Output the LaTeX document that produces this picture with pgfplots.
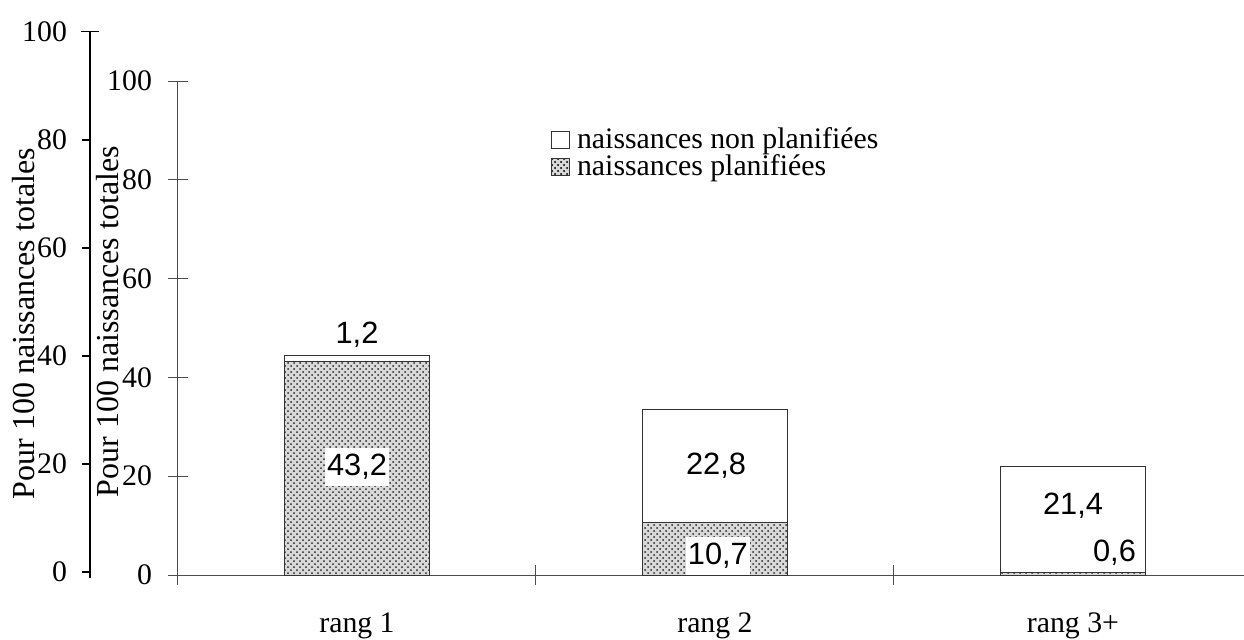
\documentclass[border=0pt]{standalone}
\usepackage{pgfplots}
\pgfplotsset{compat=1.18}
\usetikzlibrary{patterns}
\usepackage{fontspec}
\setmainfont{Liberation Serif}
\newfontfamily\arial{Liberation Sans}
\newcommand\fs{\fontsize{14.9}{16}\selectfont}
\newcommand\fl{\fontsize{16}{17}\selectfont}
\newcommand\fa{\arial\fontsize{15.4}{17}\selectfont}
\begin{document}
\begin{tikzpicture}
\useasboundingbox (0,0) rectangle (622pt,319.5pt);
% outer (stray) axis
\begin{axis}[
  at={(45pt,30.26pt)}, anchor=south west,
  scale only axis, width=10pt, height=273.4pt,
  xmin=0, xmax=1, ymin=-1.2, ymax=100,
  hide x axis,
  axis y line*=left,
  y axis line style={-, line width=1pt, black},
  ytick={0,20,40,60,80,100},
  tick align=outside, major tick length=4pt,
  ytick style={line width=0.8pt, black},
  extra y ticks={100}, extra y tick labels={},
  extra y tick style={tick align=center, major tick length=8.5pt},
  tick label style={font=\fs, xshift=-4pt},
  /pgf/number format/assume math mode=true,
  ylabel={Pour 100 naissances totales},
  every axis y label/.style={at={(axis description cs:-3.3,0.466)}, rotate=90, anchor=center, font=\fl},
]
\end{axis}
% inner axis with the bars
\begin{axis}[
  at={(89pt,32pt)}, anchor=south west,
  scale only axis, width=533pt, height=247pt,
  xmin=-0.5, xmax=2.4777, ymin=0, ymax=100,
  axis x line=bottom, axis y line=left,
  axis line style={-, black!70, line width=0.5pt},
  ybar stacked, bar width=0.4036,
  xtick={-0.5,0.5,1.5}, xticklabels={},
  extra x ticks={0,1,2}, extra x tick labels={rang 1,rang 2,rang 3+},
  extra x tick style={major tick length=0pt, tick label style={anchor=base, yshift=-28.5pt}},
  ytick={0,20,40,60,80,100},
  tick align=center, major tick length=10pt,
  tick style={black!70, line width=0.5pt},
  tick label style={font=\fs},
  yticklabel style={xshift=-4.5pt},
  /pgf/number format/assume math mode=true,
  ylabel={Pour 100 naissances totales},
  every axis y label/.style={at={(axis description cs:-0.066,0.513)}, rotate=90, anchor=center, font=\fl},
  reverse legend,
  legend style={at={(rel axis cs:0.344,0.922)}, anchor=north west, draw=none, fill=none, font=\fs, row sep=-2.5pt, legend cell align=left},
  clip=false,
]
\addplot[fill=gray!30, draw=black!80, line width=0.5pt, postaction={pattern=crosshatch dots, pattern color=black!85},
  legend image code/.code={\draw[fill=gray!30, draw=black!80, postaction={pattern=crosshatch dots, pattern color=black!85}] (0pt,-4.25pt) rectangle (9pt,4.25pt); \path (10.5pt,0pt);}]
  coordinates {(0,43.2) (1,10.7) (2,0.6)};
\addlegendentry{naissances planifiées}
\addplot[fill=white, draw=black!80, line width=0.5pt,
  legend image code/.code={\draw[fill=white, draw=black!80] (0pt,-4.25pt) rectangle (9pt,4.25pt); \path (10.5pt,0pt);}]
  coordinates {(0,1.2) (1,22.8) (2,21.4)};
\addlegendentry{naissances non planifiées}
\coordinate (l1) at (axis cs:0,48.6);
\coordinate (l2) at (axis cs:0,21.9);
\coordinate (l3) at (axis cs:1.003,22.1);
\coordinate (l4) at (axis cs:1.008,3.85);
\coordinate (l5) at (axis cs:2,14.0);
\coordinate (l6) at (axis cs:2.116,4.45);
\end{axis}
\node[font=\fa] at (l1) {1,2};
\node[font=\fa, fill=white, inner xsep=1pt, inner ysep=3pt] at (l2) {43,2};
\node[font=\fa] at (l3) {22,8};
\node[font=\fa, fill=white, inner xsep=1pt, inner ysep=3pt] at (l4) {10,7};
\node[font=\fa] at (l5) {21,4};
\node[font=\fa, fill=white, inner xsep=1pt, inner ysep=1pt] at (l6) {0,6};
\end{tikzpicture}
\end{document}
